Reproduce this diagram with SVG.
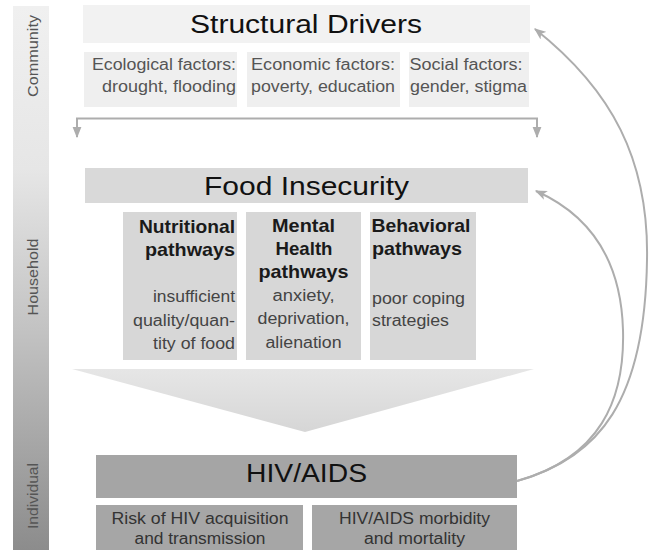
<svg xmlns="http://www.w3.org/2000/svg" width="660" height="550" viewBox="0 0 660 550">
<style>
text{font-family:"Liberation Sans",Arial,sans-serif}
.title{font-size:26px;fill:#111;text-anchor:middle}
.lvl{font-size:15.5px;fill:#555;text-anchor:middle}
.fac{font-size:16px;fill:#555}
.pb{font-size:18.5px;font-weight:bold;fill:#1a1a1a}
.pd{font-size:16px;fill:#444}
.hb{font-size:16px;fill:#333;text-anchor:middle}
.end{text-anchor:end}
.mid{text-anchor:middle}
.conn{fill:none;stroke:#adadad;stroke-width:2}
</style>
<defs>
<linearGradient id="barG" x1="0" y1="0" x2="0" y2="1">
<stop offset="0" stop-color="#f0f0f0"/>
<stop offset="0.3" stop-color="#e6e6e6"/>
<stop offset="0.6" stop-color="#c2c2c2"/>
<stop offset="1" stop-color="#8c8c8c"/>
</linearGradient>
<linearGradient id="chevG" x1="0" y1="0" x2="0" y2="1">
<stop offset="0" stop-color="#e6e6e6"/>
<stop offset="1" stop-color="#d6d6d6"/>
</linearGradient>
<marker id="ah" viewBox="0 0 10 8" refX="9" refY="4" markerWidth="12" markerHeight="10" markerUnits="userSpaceOnUse" orient="auto">
<path d="M0,0 L10,4 L0,8 L2.5,4 z" fill="#adadad"/>
</marker>
<marker id="ad" viewBox="0 0 10 8" refX="9" refY="4" markerWidth="11" markerHeight="11" markerUnits="userSpaceOnUse" orient="auto">
<path d="M0,0 L10,4 L0,8 z" fill="#adadad"/>
</marker>
</defs>

<g id="levels">
<rect x="13" y="6" width="36" height="544" fill="url(#barG)"/>
<text class="lvl" transform="translate(38,56) rotate(-90)" textLength="82" lengthAdjust="spacingAndGlyphs">Community</text>
<text class="lvl" transform="translate(38,277) rotate(-90)" textLength="77" lengthAdjust="spacingAndGlyphs">Household</text>
<text class="lvl" transform="translate(38,496) rotate(-90)" textLength="66" lengthAdjust="spacingAndGlyphs">Individual</text>
</g>

<g id="structural-drivers">
<rect x="83" y="5" width="447" height="38" fill="#f2f2f2"/>
<text class="title" x="306" y="33" textLength="232" lengthAdjust="spacingAndGlyphs">Structural Drivers</text>
</g>
<g id="ecological">
<rect x="84" y="52" width="153" height="55" fill="#efefef"/>
<text class="fac end" x="236" y="69.5" textLength="144" lengthAdjust="spacingAndGlyphs">Ecological factors:</text>
<text class="fac end" x="236" y="91.5" textLength="134" lengthAdjust="spacingAndGlyphs">drought, flooding</text>
</g>
<g id="economic">
<rect x="247" y="52" width="153" height="55" fill="#efefef"/>
<text class="fac" x="251" y="69.5" textLength="144" lengthAdjust="spacingAndGlyphs">Economic factors:</text>
<text class="fac" x="251" y="91.5" textLength="144" lengthAdjust="spacingAndGlyphs">poverty, education</text>
</g>
<g id="social">
<rect x="409" y="52" width="120" height="55" fill="#efefef"/>
<text class="fac" x="409.5" y="69.5" textLength="113" lengthAdjust="spacingAndGlyphs">Social factors:</text>
<text class="fac" x="410" y="91.5" textLength="117" lengthAdjust="spacingAndGlyphs">gender, stigma</text>
</g>

<g id="food-insecurity">
<rect x="85" y="168" width="443" height="35" fill="#d9d9d9"/>
<text class="title" x="306.5" y="195" textLength="205" lengthAdjust="spacingAndGlyphs">Food Insecurity</text>
</g>
<g id="nutritional">
<rect x="123" y="212" width="114" height="148" fill="#d7d7d7"/>
<text class="pb end" x="235" y="233" textLength="96" lengthAdjust="spacingAndGlyphs">Nutritional</text>
<text class="pb end" x="235" y="256" textLength="90" lengthAdjust="spacingAndGlyphs">pathways</text>
<text class="pd end" x="235" y="302" textLength="82" lengthAdjust="spacingAndGlyphs">insufficient</text>
<text class="pd end" x="235" y="325.5" textLength="102" lengthAdjust="spacingAndGlyphs">quality/quan-</text>
<text class="pd end" x="235" y="349" textLength="82" lengthAdjust="spacingAndGlyphs">tity of food</text>
</g>
<g id="mental-health">
<rect x="246" y="212" width="115" height="148" fill="#d7d7d7"/>
<text class="pb mid" x="303.5" y="232" textLength="63" lengthAdjust="spacingAndGlyphs">Mental</text>
<text class="pb mid" x="304" y="255" textLength="57" lengthAdjust="spacingAndGlyphs">Health</text>
<text class="pb mid" x="303.5" y="278" textLength="90" lengthAdjust="spacingAndGlyphs">pathways</text>
<text class="pd mid" x="303.5" y="300.5" textLength="62" lengthAdjust="spacingAndGlyphs">anxiety,</text>
<text class="pd mid" x="303.5" y="323.5" textLength="92" lengthAdjust="spacingAndGlyphs">deprivation,</text>
<text class="pd mid" x="303.5" y="347.5" textLength="76" lengthAdjust="spacingAndGlyphs">alienation</text>
</g>
<g id="behavioral">
<rect x="370" y="212" width="106" height="148" fill="#d7d7d7"/>
<text class="pb" x="371.5" y="232" textLength="99" lengthAdjust="spacingAndGlyphs">Behavioral</text>
<text class="pb" x="372" y="255" textLength="90" lengthAdjust="spacingAndGlyphs">pathways</text>
<text class="pd" x="372" y="303.5" textLength="93" lengthAdjust="spacingAndGlyphs">poor coping</text>
<text class="pd" x="372" y="325.5" textLength="77" lengthAdjust="spacingAndGlyphs">strategies</text>
</g>

<g id="funnel">
<polygon points="72,369 534,369 305,432" fill="url(#chevG)"/>
</g>

<g id="hiv-aids">
<rect x="96" y="455" width="421" height="43" fill="#a5a5a5"/>
<text class="title" x="306.5" y="482" textLength="121" lengthAdjust="spacingAndGlyphs">HIV/AIDS</text>
</g>
<g id="risk">
<rect x="96" y="505" width="207" height="45" fill="#a6a6a6"/>
<text class="hb" x="200" y="524" textLength="177" lengthAdjust="spacingAndGlyphs">Risk of HIV acquisition</text>
<text class="hb" x="200" y="544" textLength="131" lengthAdjust="spacingAndGlyphs">and transmission</text>
</g>
<g id="morbidity">
<rect x="312" y="505" width="205" height="45" fill="#a6a6a6"/>
<text class="hb" x="414.5" y="524" textLength="151" lengthAdjust="spacingAndGlyphs">HIV/AIDS morbidity</text>
<text class="hb" x="414.5" y="544" textLength="101" lengthAdjust="spacingAndGlyphs">and mortality</text>
</g>

<g id="connectors">
<path class="conn" d="M77,137 V118.5 H537 V137" />
<path class="conn" d="M77,126 V137" marker-end="url(#ad)"/>
<path class="conn" d="M537,126 V137" marker-end="url(#ad)"/>
<path class="conn" d="M517,481 C600,458 645,400 647,260 C649,160 612,90 535,29" marker-end="url(#ah)"/>
<path class="conn" d="M517,481 C600,458 625,400 623,330 C621,260 590,215 536,191" marker-end="url(#ah)"/>
</g>
</svg>
